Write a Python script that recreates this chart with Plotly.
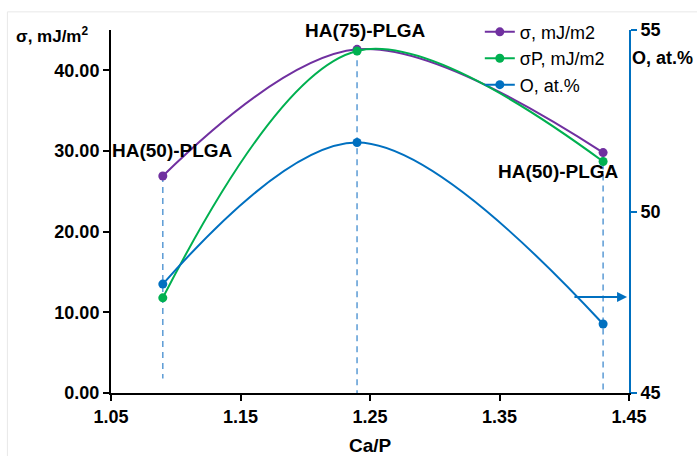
import plotly.graph_objects as go

ca_p = [1.09, 1.24, 1.43]
sigma = [26.9, 42.6, 29.8]
sigma_p = [11.8, 42.4, 28.7]
oxygen = [48.0, 51.9, 46.9]
labels = ["HA(50)-PLGA", "HA(75)-PLGA", "HA(50)-PLGA"]
drop_bottom = [1.8, 0.0, 0.0]
x_ticks = [1.05, 1.15, 1.25, 1.35, 1.45]
y_ticks = [0, 10, 20, 30, 40]
y2_ticks = [45, 50, 55]

PURPLE = "#7030A0"
GREEN = "#00B050"
BLUE = "#0070C0"
DASH = "#5B9BD5"
FONT = "Liberation Sans"

fig = go.Figure()

# dashed drop lines
for xv, top, bot in zip(ca_p, [max(a, b) for a, b in zip(sigma, sigma_p)], drop_bottom):
    fig.add_trace(go.Scatter(x=[xv, xv], y=[top, bot], mode="lines",
                             line=dict(color=DASH, width=1.5, dash="6px,5px"),
                             showlegend=False, hoverinfo="skip"))

fig.add_trace(go.Scatter(x=ca_p, y=sigma, name="σ, mJ/m2", mode="lines+markers",
                         line=dict(color=PURPLE, width=2, shape="spline", smoothing=1),
                         marker=dict(size=9, color=PURPLE)))
fig.add_trace(go.Scatter(x=ca_p, y=sigma_p, name="σP, mJ/m2", mode="lines+markers",
                         line=dict(color=GREEN, width=2, shape="spline", smoothing=1),
                         marker=dict(size=9, color=GREEN)))
fig.add_trace(go.Scatter(x=ca_p, y=oxygen, name="O, at.%", mode="lines+markers", yaxis="y2",
                         line=dict(color=BLUE, width=2, shape="spline", smoothing=1),
                         marker=dict(size=9, color=BLUE)))

LBL = dict(family=FONT, size=19, color="black")
# point labels
fig.add_annotation(x=ca_p[0], y=30.1, text=f"<b>{labels[0]}</b>", showarrow=False,
                   xanchor="center", yanchor="middle", xshift=10, font=LBL)
fig.add_annotation(x=ca_p[1], y=1.0, xref="x", yref="paper", text=f"<b>{labels[1]}</b>",
                   showarrow=False, xanchor="center", yanchor="middle", xshift=8, font=LBL)
fig.add_annotation(x=ca_p[2], y=27.4, text=f"<b>{labels[2]}</b>", showarrow=False,
                   xanchor="center", yanchor="middle", xshift=-45, font=LBL)

# arrow pointing to the right axis
fig.add_annotation(x=1.4485, y=11.9, ax=1.4067, ay=11.9, xref="x", yref="y",
                   axref="x", ayref="y", text="", showarrow=True,
                   arrowhead=2, arrowsize=1, arrowwidth=2, arrowcolor=BLUE)

# axis titles
fig.add_annotation(x=-0.112, y=0.985, xref="paper", yref="paper",
                   text="<b>σ, mJ/m<sup>2</sup></b>", showarrow=False,
                   xanchor="center", yanchor="middle",
                   font=dict(family=FONT, size=17, color="black"))
fig.add_annotation(x=1.064, y=0.922, xref="paper", yref="paper", text="<b>O, at.%</b>",
                   showarrow=False, xanchor="center", yanchor="middle",
                   font=dict(family=FONT, size=18, color="black"))
fig.add_annotation(x=0.5, y=-0.145, xref="paper", yref="paper", text="<b>Ca/P</b>",
                   showarrow=False, xanchor="center", yanchor="middle",
                   font=dict(family=FONT, size=19, color="black"))

fig.update_layout(
    width=697, height=456,
    margin=dict(l=111, r=68, t=30, b=63, autoexpand=False),
    paper_bgcolor="white", plot_bgcolor="white",
    font=dict(family=FONT, size=18, color="black"),
    showlegend=True,
    legend=dict(x=0.712, y=1.045, xanchor="left", yanchor="top",
                bgcolor="rgba(0,0,0,0)", font=dict(family=FONT, size=18),
                itemwidth=30, tracegroupgap=0),
    xaxis=dict(range=[1.05, 1.45], tickvals=x_ticks,
               ticktext=[f"<b>{v:.2f}</b>" for v in x_ticks],
               showgrid=False, zeroline=False, showline=True, linecolor="black", linewidth=2,
               ticks="outside", ticklen=6, tickcolor="black", tickwidth=2,
               tickfont=dict(family=FONT, size=18)),
    yaxis=dict(range=[0, 45], tickvals=y_ticks,
               ticktext=[f"<b>{v:.2f}</b>" for v in y_ticks],
               showgrid=False, zeroline=False, showline=True, linecolor="black", linewidth=2,
               ticks="outside", ticklen=6, tickcolor="black", tickwidth=2,
               tickfont=dict(family=FONT, size=18)),
    yaxis2=dict(range=[45, 55], tickvals=y2_ticks,
                ticktext=[f"<b>{v}</b>" for v in y2_ticks],
                overlaying="y", side="right", showgrid=False, zeroline=False,
                showline=True, linecolor=BLUE, linewidth=2,
                ticks="outside", ticklen=6, tickcolor=BLUE, tickwidth=2,
                tickfont=dict(family=FONT, size=18)),
)

fig.add_shape(type="rect", xref="paper", yref="paper", x0=-0.2, x1=1.2, y0=-0.3, y1=1.05,
              line=dict(color="#E8E8E8", width=1))

fig.write_html("out.html")
